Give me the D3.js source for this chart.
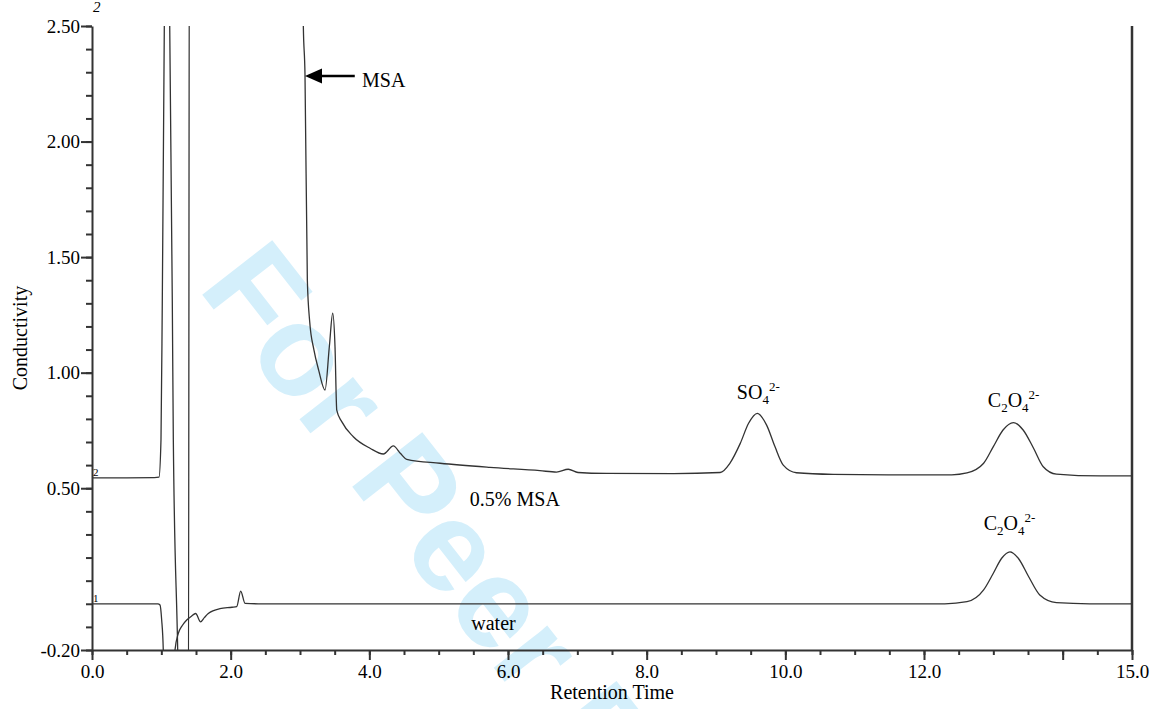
<!DOCTYPE html>
<html>
<head>
<meta charset="utf-8">
<script src="https://cdn.jsdelivr.net/npm/d3@7"></script>
<style>
  body { margin: 0; background: #fff; }
  svg { display: block; }
</style>
</head>
<body>
<svg width="1155" height="709"></svg>
<script>
// retention time (min), conductivity
const msaTrace = [
  [0.00, 0.545], [0.50, 0.545], [0.90, 0.546], [0.966, 0.548], [0.995, 0.71],
  [1.014, 1.314], [1.043, 2.5], [1.06, 3.3], [1.10, 3.3], [1.121, 2.5],
  [1.158, 1.314], [1.173, 0.709], [1.236, -0.2], [1.26, -0.6], [1.39, -0.6],
  [1.406, 3.3], [1.50, 3.3], [3.00, 3.3], [3.03, 2.9], [3.048, 2.5],
  [3.072, 2.29], [3.106, 1.40], [3.140, 1.22], [3.20, 1.10], [3.27, 1.01],
  [3.361, 0.925], [3.423, 1.112], [3.472, 1.257], [3.505, 1.112], [3.530, 0.838],
  [3.602, 0.788], [3.769, 0.723], [4.010, 0.673], [4.202, 0.648], [4.346, 0.683],
  [4.450, 0.650], [4.539, 0.625], [5.02, 0.608], [5.74, 0.590], [6.46, 0.576],
  [6.70, 0.570], [6.87, 0.582], [7.01, 0.568], [7.42, 0.564], [8.39, 0.563],
  [9.06, 0.568], [9.20, 0.608], [9.35, 0.694], [9.47, 0.781], [9.596, 0.824],
  [9.73, 0.773], [9.85, 0.680], [9.97, 0.600], [10.16, 0.567], [10.69, 0.560],
  [11.50, 0.558], [12.40, 0.558], [12.62, 0.566], [12.86, 0.608], [13.00, 0.680],
  [13.14, 0.752], [13.29, 0.784], [13.43, 0.752], [13.58, 0.673], [13.72, 0.593],
  [13.91, 0.561], [14.54, 0.553], [15.00, 0.553]
];

const waterTrace = [
  [0.00, 0.0], [0.50, 0.0], [0.95, 0.0], [0.981, -0.005], [1.005, -0.07],
  [1.028, -0.2], [1.05, -0.6], [1.17, -0.6], [1.197, -0.2], [1.245, -0.128],
  [1.30, -0.095], [1.366, -0.07], [1.43, -0.055], [1.495, -0.042], [1.567, -0.078],
  [1.62, -0.06], [1.677, -0.042], [1.846, -0.021], [2.02, -0.015], [2.087, -0.012],
  [2.145, 0.055], [2.207, 0.002], [2.40, 0.0], [5.00, 0.0], [9.00, 0.0],
  [12.30, 0.0], [12.62, 0.009], [12.86, 0.06], [13.00, 0.132], [13.12, 0.197],
  [13.24, 0.225], [13.36, 0.197], [13.51, 0.117], [13.67, 0.038], [13.91, 0.005],
  [14.39, 0.0], [15.00, 0.0]
];

const xMajorTicks = [0, 2, 4, 6, 8, 10, 12, 14, 15];
const xMinorTicks = d3.range(0, 15.01, 0.5);
const yMajorTicks = [-0.2, 0.5, 1.0, 1.5, 2.0, 2.5];
const yMinorTicks = d3.range(-0.2, 2.51, 0.1);

const serif = "Liberation Serif";
const svg = d3.select("svg");
const mLeft = 92, mRight = 1132, mTop = 26, mBottom = 650;

const x = d3.scaleLinear().domain([0, 15]).range([mLeft, mRight]);
const y = d3.scaleLinear().domain([-0.2, 2.5]).range([mBottom, mTop]);

// watermark
svg.append("text")
   .attr("transform", "translate(197,288) rotate(52)")
   .style("font-family", "Liberation Sans")
   .attr("font-weight", "bold")
   .attr("font-size", 129)
   .attr("fill", "#d4effb")
   .text("For Peer Review");

svg.append("clipPath").attr("id", "plot")
   .append("rect")
   .attr("x", mLeft).attr("y", mTop)
   .attr("width", mRight - mLeft).attr("height", mBottom - mTop);

const line = d3.line()
   .x(d => x(d[0]))
   .y(d => y(d[1]))
   .curve(d3.curveMonotoneX);

const traces = svg.append("g").attr("clip-path", "url(#plot)");
[msaTrace, waterTrace].forEach(tr => {
  traces.append("path")
     .datum(tr)
     .attr("fill", "none")
     .attr("stroke", "#333")
     .attr("stroke-width", 1.3)
     .attr("d", line);
});

// axes
const fmtY = d => d3.format(".2f")(d).replace("−", "-");
const gx = svg.append("g").attr("transform", "translate(0," + mBottom + ")");
gx.call(d3.axisBottom(x).tickValues(xMinorTicks).tickSize(5).tickFormat(""))
  .call(g => g.select(".domain").remove());
gx.append("g").call(d3.axisBottom(x).tickValues(xMajorTicks).tickSize(10).tickSizeOuter(0)
   .tickFormat(d => d === 14 ? "" : d3.format(".1f")(d)));

const gy = svg.append("g").attr("transform", "translate(" + mLeft + ",0)");
gy.call(d3.axisLeft(y).tickValues(yMinorTicks).tickSize(6).tickFormat(""))
  .call(g => g.select(".domain").remove());
gy.append("g").call(d3.axisLeft(y).tickValues(yMajorTicks).tickSize(11).tickSizeOuter(0)
   .tickPadding(1).tickFormat(fmtY));

svg.selectAll(".tick line, .domain").attr("stroke", "#333").attr("stroke-width", 2);
svg.selectAll(".tick text").style("font-family", serif)
   .attr("font-size", 19).attr("fill", "#000");
gx.selectAll(".tick text").attr("y", 15);

svg.append("line")
   .attr("x1", mRight).attr("x2", mRight).attr("y1", mTop).attr("y2", mBottom)
   .attr("stroke", "#333").attr("stroke-width", 2.5);

// axis titles
svg.append("text")
   .attr("transform", "translate(27,338) rotate(-90)")
   .attr("text-anchor", "middle")
   .style("font-family", serif)
   .attr("font-size", 20)
   .text("Conductivity");

svg.append("text")
   .attr("x", (mLeft + mRight) / 2)
   .attr("y", 699)
   .attr("text-anchor", "middle")
   .style("font-family", serif)
   .attr("font-size", 20)
   .text("Retention Time");

// trace markers
svg.append("text").attr("x", 93).attr("y", 12).attr("font-size", 15)
   .style("font-family", serif).attr("font-style", "italic").text("2");
svg.append("text").attr("x", 93).attr("y", y(0.545) - 2).attr("font-size", 11)
   .style("font-family", serif).text("2");
svg.append("text").attr("x", 93).attr("y", y(0.0) - 2).attr("font-size", 11)
   .style("font-family", serif).text("1");

// annotations: parts are [text, baseline offset]
function ion(px, py, parts) {
  const t = svg.append("text").attr("x", x(px)).attr("y", y(py))
     .style("font-family", serif).attr("font-size", 20);
  let cur = 0;
  parts.forEach(p => {
    const off = p[1] || 0;
    const s = t.append("tspan").text(p[0]).attr("dy", off - cur);
    if (off !== 0) s.attr("font-size", 13);
    cur = off;
  });
}
ion(9.30, 0.886, [["SO"], ["4", 5], ["2-", -8]]);
ion(12.92, 0.850, [["C"], ["2", 5], ["O", 0], ["4", 5], ["2-", -8]]);
ion(12.86, 0.321, [["C"], ["2", 5], ["O", 0], ["4", 5], ["2-", -8]]);

svg.append("text").attr("x", x(5.45)).attr("y", y(0.423)).style("font-family", serif)
   .attr("font-size", 20).text("0.5% MSA");
svg.append("text").attr("x", x(5.47)).attr("y", y(-0.114)).style("font-family", serif)
   .attr("font-size", 20).text("water");

// MSA arrow
const ay = y(2.284);
svg.append("line")
   .attr("x1", x(3.30)).attr("x2", x(3.79)).attr("y1", ay).attr("y2", ay)
   .attr("stroke", "#000").attr("stroke-width", 2.5);
svg.append("path")
   .attr("d", "M" + x(3.072) + "," + ay + "L" + (x(3.072) + 17) + "," + (ay - 7.5) +
              "L" + (x(3.072) + 17) + "," + (ay + 7.5) + "Z")
   .attr("fill", "#000");
svg.append("text").attr("x", x(3.894)).attr("y", y(2.236)).style("font-family", serif)
   .attr("font-size", 20).text("MSA");
</script>
</body>
</html>
